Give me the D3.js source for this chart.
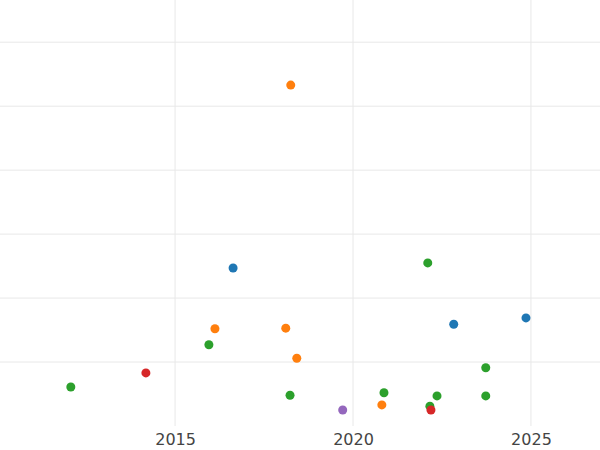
<!DOCTYPE html><html><head><script src="https://cdn.jsdelivr.net/npm/d3@7"></script>
<style>body{margin:0;background:#fff}</style></head><body><svg id="c" width="600" height="450"></svg>
<script>
const years=[2016.63,2022.83,2024.86,2018.25,2016.12,2018.11,2018.42,2020.81,2012.07,2015.95,2018.23,2020.87,2022.1,2022.16,2022.36,2023.73,2023.73,2014.18,2022.19,2019.71];
const values=[2.47,1.59,1.69,5.33,1.52,1.53,1.06,0.33,0.61,1.27,0.48,0.52,2.55,0.31,0.47,0.91,0.47,0.83,0.25,0.25];
const groups=["b","b","b","o","o","o","o","o","g","g","g","g","g","g","g","g","g","r","r","p"];
const xTicks=[2015,2020,2025];
const yGrid=[1,2,3,4,5,6];
const colors={b:"#1f77b4",o:"#ff7f0e",g:"#2ca02c",r:"#d62728",p:"#9467bd"};
const svg=d3.select("#c");
const x=d3.scaleLinear().domain([2010.08,2026.94]).range([0,600]);
const y=d3.scaleLinear().domain([0,6.66]).range([426,0]);
svg.append("g").selectAll("line").data(yGrid).join("line").attr("x1",0).attr("x2",600).attr("y1",d=>y(d)).attr("y2",d=>y(d)).attr("stroke","#e8e8e8");
svg.append("g").selectAll("line").data(xTicks).join("line").attr("x1",d=>x(d)).attr("x2",d=>x(d)).attr("y1",0).attr("y2",426).attr("stroke","#e8e8e8");
const ax=svg.append("g").attr("transform","translate(0,426)").call(d3.axisBottom(x).tickValues(xTicks).tickFormat(d3.format("d")).tickSize(0).tickPadding(8));
ax.select(".domain").remove();
ax.selectAll("text").attr("font-family","DejaVu Sans").attr("font-size",16).attr("fill","#444");
svg.append("g").selectAll("circle").data(years).join("circle").attr("cx",d=>x(d)).attr("cy",(d,i)=>y(values[i])).attr("r",4.5).attr("fill",(d,i)=>colors[groups[i]]);
</script></body></html>
